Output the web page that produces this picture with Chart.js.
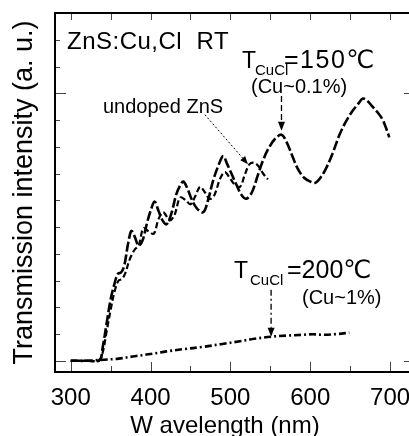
<!DOCTYPE html>
<html><head><meta charset="utf-8">
<script src="https://cdn.jsdelivr.net/npm/chart.js@4.4.1/dist/chart.umd.min.js"></script>
<style>
html,body{margin:0;padding:0;overflow:hidden;background:#fff;width:409px;height:436px;}
#wrap{position:absolute;left:0;top:0;width:425px;height:436px;}
</style></head><body>
<div id="wrap"><canvas id="c" width="425" height="436"></canvas></div>
<script>
// ---- data ----
const wavelengthA = [300,320,336,340,345,350,355,359,363,367,372,376,380,385,390,396,400,405,410,415,420,426,432,437,441,446,452,458,466,472,478,485,491,496,502,508,514,520,527,534,541,548,556,564,570,577,584,592,600,606,613,620,628,636,644,652,660,666,672,678,684,690,695,699];
const intensityA150 = [0,0,0.02,0.5,1.4,2.3,2.9,3.25,3.3,3.55,4.4,4.85,4.65,4.3,4.5,5.2,5.6,5.95,5.6,5.25,5.1,5.5,6.2,6.55,6.7,6.45,6.0,5.7,5.55,6.0,6.7,7.3,7.65,7.35,6.95,6.55,6.2,6.06,6.3,6.9,7.5,7.95,8.3,8.45,8.2,7.7,7.2,6.85,6.7,6.65,6.85,7.2,7.75,8.4,8.9,9.3,9.6,9.8,9.7,9.5,9.3,9.05,8.7,8.35];
const wavelengthB = [300,320,336,340,345,350,355,360,364,368,374,380,385,391,397,404,410,416,424,430,437,444,450,456,462,468,474,480,487,493,499,505,512,518,524,530,535,541,547];
const intensityUndoped = [0,0,0.02,0.3,1.1,1.9,2.6,3.0,3.05,3.25,3.8,4.15,4.3,4.95,4.85,4.75,5.3,5.55,5.25,5.45,6.1,6.0,5.85,6.15,6.5,6.3,6.05,6.2,6.8,7.05,6.85,6.6,6.5,6.95,7.35,7.4,7.28,7.0,6.78];
const wavelengthC = [300,320,337,360,380,400,420,440,466,490,510,530,551,570,590,603,618,634,649];
const intensityC200 = [0,0,0.03,0.08,0.17,0.25,0.35,0.43,0.52,0.63,0.72,0.82,0.9,0.94,0.97,0.99,0.97,1.0,1.05];
const xTickLabels = [300,400,500,600,700];
const xMinorTicks = [300,350,400,450,500,550,600,650,700];
const yTicks = [0,1,2,3,4,5,6,7,8,9,10,11,12];
const xTitle = 'W avelength (nm)';
const yTitle = 'Transmission intensity (a. u.)';
const sampleLabel = 'ZnS:Cu,Cl  RT';
const label150 = ['T','CuCl','=150\u2103','(Cu~0.1%)'];
const label200 = ['T','CuCl','=200\u2103','(Cu~1%)'];
const labelUndoped = 'undoped ZnS';

const FONT = '"Liberation Sans", Arial, "DejaVu Sans", sans-serif';
const pts = (xs, ys) => xs.map((v,i)=>({x:v, y:ys[i]}));

function arrow(ctx, x1, y1, x2, y2, dash, lw, hl, hw){
  ctx.save();
  ctx.strokeStyle='#000'; ctx.fillStyle='#000'; ctx.lineWidth=lw;
  const ang=Math.atan2(y2-y1,x2-x1);
  const bx=x2-hl*Math.cos(ang), by=y2-hl*Math.sin(ang);
  ctx.setLineDash(dash);
  ctx.beginPath(); ctx.moveTo(x1,y1); ctx.lineTo(bx,by); ctx.stroke();
  ctx.setLineDash([]);
  ctx.beginPath();
  ctx.moveTo(x2,y2);
  ctx.lineTo(bx+hw*Math.sin(ang), by-hw*Math.cos(ang));
  ctx.lineTo(bx-hw*Math.sin(ang), by+hw*Math.cos(ang));
  ctx.closePath(); ctx.fill();
  ctx.restore();
}

function txt(ctx, s, x, y, size, spacing){
  ctx.font = size+'px '+FONT;
  ctx.letterSpacing = (spacing||0)+'px';
  ctx.fillText(s, x, y);
  ctx.letterSpacing = '0px';
}

const framePlugin = {
  id:'frame',
  afterDraw(chart){
    const {ctx, chartArea:a, scales:{x,y}} = chart;
    ctx.save();
    ctx.strokeStyle='#444'; ctx.lineWidth=1;
    ctx.beginPath();
    xMinorTicks.forEach(v=>{
      const px=Math.round(x.getPixelForValue(v))+0.5;
      const major = v%100===0;
      ctx.moveTo(px,a.bottom); ctx.lineTo(px,a.bottom-(major?10:6));
      ctx.moveTo(px,a.top); ctx.lineTo(px,a.top+7);
    });
    yTicks.forEach(v=>{
      const py=Math.round(y.getPixelForValue(v))+0.5;
      const major = v%10===0;
      ctx.moveTo(a.left,py); ctx.lineTo(a.left+(major?11:5),py);
      ctx.moveTo(a.right,py); ctx.lineTo(a.right-(major?10:5),py);
    });
    ctx.stroke();
    ctx.strokeStyle='#000'; ctx.lineWidth=2;
    ctx.strokeRect(a.left, a.top, a.right-a.left, a.bottom-a.top);

    ctx.fillStyle='#000'; ctx.textBaseline='alphabetic'; ctx.textAlign='left';
    txt(ctx, sampleLabel, 67, 49, 24, 0.5);
    // 150 label
    txt(ctx, label150[0], 242, 68, 23);
    txt(ctx, label150[1], 255, 75, 15);
    txt(ctx, label150[2], 284, 68, 25, 1.5);
    txt(ctx, label150[3], 251, 93, 20);
    // undoped
    txt(ctx, labelUndoped, 103, 113, 20);
    // 200 label
    txt(ctx, label200[0], 234, 278, 23);
    txt(ctx, label200[1], 250, 285, 15);
    txt(ctx, label200[2], 287, 278, 25);
    txt(ctx, label200[3], 302, 304, 20);
    // x title
    ctx.textAlign='center';
    txt(ctx, xTitle, 225, 433, 24);

    // arrows (in data coordinates)
    arrow(ctx, x.getPixelForValue(564), y.getPixelForValue(9.9), x.getPixelForValue(564), y.getPixelForValue(8.6), [6,3], 1.3, 9, 3.5);
    arrow(ctx, x.getPixelForValue(468), y.getPixelForValue(9.2), x.getPixelForValue(522), y.getPixelForValue(7.35), [2,2], 1, 8, 3.2);
    arrow(ctx, x.getPixelForValue(551), y.getPixelForValue(2.65), x.getPixelForValue(551), y.getPixelForValue(0.9), [6,3,2,3], 1.3, 9, 3.5);
    ctx.restore();
  }
};

new Chart(document.getElementById('c'), {
  type:'line',
  data:{datasets:[
    {label:'150', data:pts(wavelengthA,intensityA150), borderColor:'#000', borderWidth:2.6, borderDash:[10,3], tension:0.35, pointRadius:0, fill:false},
    {label:'undoped', data:pts(wavelengthB,intensityUndoped), borderColor:'#000', borderWidth:2.2, borderDash:[6,3], tension:0.35, pointRadius:0, fill:false},
    {label:'200', data:pts(wavelengthC,intensityC200), borderColor:'#000', borderWidth:2.6, borderDash:[7,3,2,3], tension:0.35, pointRadius:0, fill:false}
  ]},
  options:{
    responsive:false, animation:false, devicePixelRatio:1,
    layout:{padding:{top:13,right:11,left:0,bottom:0}},
    plugins:{legend:{display:false}, tooltip:{enabled:false}},
    scales:{
      x:{type:'linear', min:280.3, max:730,
         grid:{display:false, drawTicks:false}, border:{display:false},
         afterBuildTicks:s=>{s.ticks = xTickLabels.map(v=>({value:v}));},
         afterFit:s=>{s.height=64;},
         ticks:{font:{family:FONT,size:24}, color:'#000', padding:12, maxRotation:0, autoSkip:false}},
      y:{min:-0.42, max:13.0,
         grid:{display:false, drawTicks:false}, border:{display:false},
         ticks:{display:false},
         afterFit:s=>{s.width=55;},
         title:{display:true, text:yTitle, color:'#000', font:{family:FONT,size:27,lineHeight:1.2}, padding:{top:8,bottom:0}}}
    }
  },
  plugins:[framePlugin]
});
</script>
</body></html>
